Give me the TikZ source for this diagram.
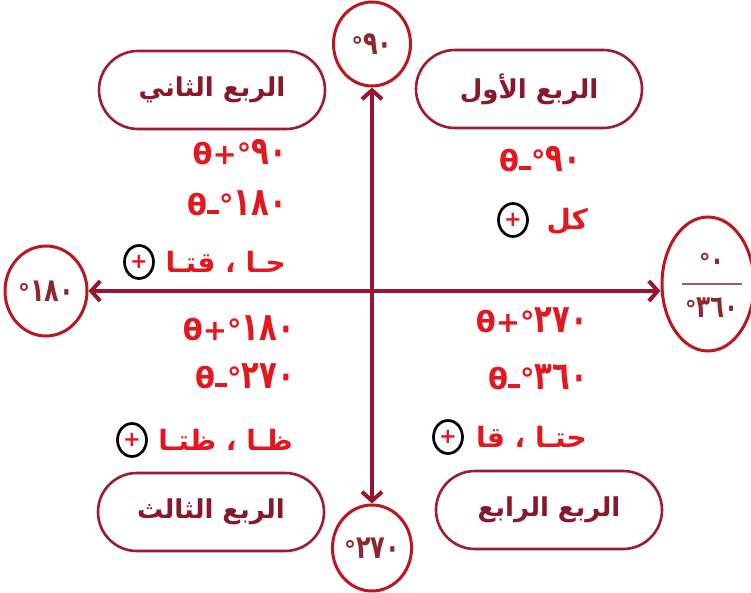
\documentclass[tikz,border=0pt]{standalone}
\usepackage{fontspec}
\usepackage{graphicx}
\usetikzlibrary{arrows.meta,shapes.misc,shapes.geometric}
\TeXXeTstate=1
\newfontfamily\arabicfont[Script=Arabic]{DejaVu Sans}
\newfontfamily\numfont{DejaVu Sans}
\definecolor{axiscol}{RGB}{150,22,48}
\definecolor{pillcol}{RGB}{155,28,52}
\definecolor{pilltext}{RGB}{138,24,44}
\definecolor{circcol}{RGB}{188,22,32}
\definecolor{degtext}{RGB}{140,40,48}
\definecolor{redtext}{RGB}{228,22,30}
\definecolor{fraccol}{RGB}{150,95,95}
\newcommand{\dashbar}{\rule[0.06em]{0.42em}{0.13em}}
\newcommand{\dn}[1]{\scalebox{1.0}[1.35]{#1}}
\begin{document}
\begin{tikzpicture}[x=1pt,y=-1pt,
  pill/.style={rounded rectangle, draw=pillcol, line width=2.6pt, minimum width=226pt, minimum height=78pt,
    font=\arabicfont\bfseries\fontsize{26}{30}\selectfont, text=pilltext, inner sep=0pt},
  degcirc/.style={ellipse, draw=circcol, line width=3pt, inner sep=0pt,
    font=\numfont\bfseries\fontsize{24}{26}\selectfont, text=degtext},
  degtxt/.style={inner sep=0pt, font=\numfont\bfseries\fontsize{23}{26}\selectfont, text=degtext},
  redline/.style={inner sep=0pt, anchor=east, font=\numfont\bfseries\fontsize{29}{30}\selectfont, text=redtext},
  redmid/.style={inner sep=0pt, font=\numfont\bfseries\fontsize{29}{30}\selectfont, text=redtext},
  redar/.style={inner sep=0pt, anchor=east, font=\arabicfont\bfseries\fontsize{28}{30}\selectfont, text=redtext},
  plusmark/.style={ellipse, draw=black, line width=2.7pt, minimum width=29pt, minimum height=33pt, inner sep=0pt,
    font=\numfont\bfseries\fontsize{21}{22}\selectfont, text=redtext},
  axisline/.style={draw=axiscol, line width=4pt,
    {Straight Barb[length=9pt,width=20pt,line width=4pt]}-{Straight Barb[length=9pt,width=20pt,line width=4pt]}}
]
\useasboundingbox[fill=white] (0,0) rectangle (751,593);

% degree circles
\node[degcirc, minimum width=77pt, minimum height=84pt] (n90) at (372,44) {°\dn{٩٠}};
\node[degcirc, minimum width=82pt, minimum height=90pt] (n180) at (46,291) {°\dn{١٨٠}};
\node[degcirc, minimum width=78pt, minimum height=86pt] (n270) at (372,548) {°\dn{٢٧٠}};
\node[degcirc, minimum width=92pt, minimum height=134pt] (n0) at (708,284) {};
\node[degtxt] (n0a) at ([xshift=4pt,yshift=22pt]n0.center) {°\dn{٠}};
\node[degtxt] (n0b) at ([xshift=4pt,yshift=-24pt]n0.center) {°\dn{٣٦٠}};
\draw[fraccol, line width=1.2pt] ([xshift=-26pt]n0.center) -- ([xshift=34pt]n0.center);

% axes
\draw[axisline] (n180) -- (n180 -| n0.west);
\draw[axisline] (n270) -- (n90);

% quadrant pills
\node[pill] (q2) at (212,90) {\beginR الربع الثاني\endR};
\node[pill] (q1) at (529,89) {\beginR الربع الأول\endR};
\node[pill] (q3) at (211,512) {\beginR الربع الثالث\endR};
\node[pill] (q4) at (549,510) {\beginR الربع الرابع\endR};

% quadrant II
\node[redline] (t2a) at (287,152) {θ+°\dn{٩٠}};
\node[redline] (t2b) at (287,203) {θ\dashbar°\dn{١٨٠}};
\node[redar] (t2c) at (286,262) {\beginR حـا ، قتـا\endR};
\node[plusmark] (p2) at (139,262) {+};

% quadrant I
\node[redmid] (t1a) at (540,159) {θ\dashbar°\dn{٩٠}};
\node[redar] (t1b) at (588,221) {\beginR كل\endR};
\node[plusmark] (p1) at (513,220) {+};

% quadrant III
\node[redline] (t3a) at (295,328) {θ+°\dn{١٨٠}};
\node[redline] (t3b) at (295,376) {θ\dashbar°\dn{٢٧٠}};
\node[redar] (t3c) at (293,440) {\beginR ظـا ، ظتـا\endR};
\node[plusmark] (p3) at (132,440) {+};

% quadrant IV
\node[redline] (t4a) at (588,320) {θ+°\dn{٢٧٠}};
\node[redline] (t4b) at (588,377) {θ\dashbar°\dn{٣٦٠}};
\node[redar] (t4c) at (587,437) {\beginR حتـا ، قا\endR};
\node[plusmark] (p4) at (448,437) {+};
\end{tikzpicture}
\end{document}
